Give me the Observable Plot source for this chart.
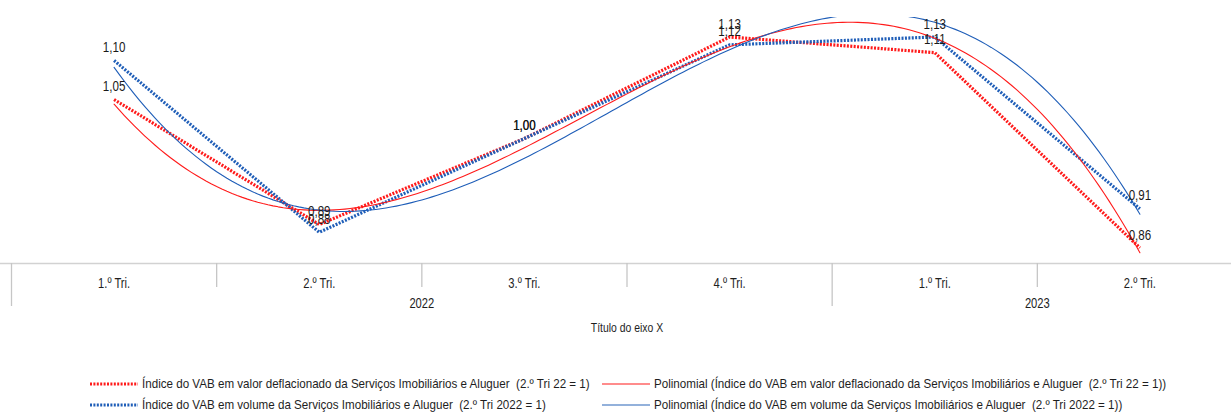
<!DOCTYPE html>
<html>
<head>
<meta charset="utf-8">
<script src="https://cdn.jsdelivr.net/npm/d3@7"></script>
<script src="https://cdn.jsdelivr.net/npm/@observablehq/plot@0.6"></script>
<style>
  body { margin: 0; background: #fff; font-family: "Liberation Sans", Arial, sans-serif; }
  #wrap { position: relative; width: 1231px; height: 416px; overflow: hidden; background: #fff; }
  #chart svg { display: block; }
  .item { position: absolute; display: flex; align-items: center; font-size: 13px; color: #1e1e1e; white-space: pre; line-height: 15px; }
  .item svg { display: block; margin-right: 4px; flex: none; }
  .item span { display: inline-block; transform: scaleX(0.893); transform-origin: 0 50%; }
</style>
</head>
<body>
<div id="wrap">
  <div id="chart"></div>
  <div id="legend"></div>
</div>
<script>
// Quarter labels (inner axis level) and year groups (outer axis level)
const quarters = ["1.º Tri.", "2.º Tri.", "3.º Tri.", "4.º Tri.", "1.º Tri.", "2.º Tri."];
const years = ["2022", "2023"];
const yearCenters = [1.5, 4.5];       // middle of each year's quarters
const yearBoundaries = [-0.5, 3.5, 5.5];
const quarterBoundaries = [0.5, 1.5, 2.5, 4.5];
const axisTitle = "Título do eixo X";

// Index series
const valorDeflacionado = [1.05, 0.89, 1.00, 1.13, 1.11, 0.86];
const volume = [1.10, 0.88, 1.00, 1.12, 1.13, 0.91];

const seriesNames = [
  "Índice do VAB em valor deflacionado da Serviços Imobiliários e Aluguer  (2.º Tri 22 = 1)",
  "Índice do VAB em volume da Serviços Imobiliários e Aluguer  (2.º Tri 2022 = 1)"
];
const trendNames = [
  "Polinomial (Índice do VAB em valor deflacionado da Serviços Imobiliários e Aluguer  (2.º Tri 22 = 1))",
  "Polinomial (Índice do VAB em volume da Serviços Imobiliários e Aluguer  (2.º Tri 2022 = 1))"
];

const RED = "#ff1a1a";
const BLUE = "#1f5eb8";
const DOTS = "2,1.4";
const NARROW = 0.8;   // horizontal squeeze applied to chart text for a narrow face

// Least-squares polynomial (order 3) trend, as in a spreadsheet trendline
function polyFit(ys, order) {
  const n = order + 1;
  const A = Array.from({length: n}, () => new Array(n + 1).fill(0));
  ys.forEach((y, x) => {
    for (let r = 0; r < n; r++) {
      for (let c = 0; c < n; c++) A[r][c] += Math.pow(x, r + c);
      A[r][n] += y * Math.pow(x, r);
    }
  });
  for (let i = 0; i < n; i++) {
    let p = i;
    for (let k = i + 1; k < n; k++) if (Math.abs(A[k][i]) > Math.abs(A[p][i])) p = k;
    [A[i], A[p]] = [A[p], A[i]];
    for (let k = i + 1; k < n; k++) {
      const f = A[k][i] / A[i][i];
      for (let c = i; c <= n; c++) A[k][c] -= f * A[i][c];
    }
  }
  const coef = new Array(n).fill(0);
  for (let i = n - 1; i >= 0; i--) {
    let s = A[i][n];
    for (let c = i + 1; c < n; c++) s -= A[i][c] * coef[c];
    coef[i] = s / A[i][i];
  }
  return x => coef.reduce((acc, a, k) => acc + a * Math.pow(x, k), 0);
}

function trendPoints(ys) {
  const f = polyFit(ys, 3);
  const last = ys.length - 1;
  return d3.range(0, last + 1e-9, last / 200).map(x => ({x, y: f(x)}));
}

const idx = d3.range(quarters.length);
const fmt = v => v.toFixed(2).replace(".", ",");

const chart = Plot.plot({
  width: 1231,
  height: 345,
  marginLeft: 0,
  marginRight: 0,
  marginTop: 17,
  marginBottom: 82,
  x: {domain: [-0.5, 5.5], range: [11, 1242], label: null},
  y: {domain: [0.84, 1.155], axis: null, label: null},
  style: {fontFamily: "'Liberation Sans', Arial, sans-serif", fontSize: "14px", color: "#1e1e1e", background: "#fff"},
  marks: [
    // category axis: baseline, separators and two label levels
    Plot.ruleY([0.84], {stroke: "#d2d2d2", strokeWidth: 1.5}),
    Plot.axisX({ticks: quarterBoundaries, tickSize: 24, tickFormat: () => "", label: null, stroke: "#c6c6c6", strokeWidth: 1.3}),
    Plot.axisX({ticks: yearBoundaries, tickSize: 43, tickFormat: () => "", label: null, stroke: "#c6c6c6", strokeWidth: 1.3}),
    Plot.axisX({ticks: idx, tickSize: 0, tickPadding: 15, tickFormat: i => quarters[i], label: null, fontSize: 14}),
    Plot.axisX({ticks: yearCenters, tickSize: 0, tickPadding: 35, tickFormat: (d, i) => years[i], label: null, fontSize: 14}),
    Plot.text([axisTitle], {x: () => 2.5, frameAnchor: "bottom", dy: 68, fontSize: 13, fill: "#1e1e1e"}),

    // dotted index lines
    Plot.line(idx, {x: i => i, y: i => valorDeflacionado[i], stroke: RED, strokeWidth: 3.2, strokeDasharray: DOTS, strokeLinecap: "butt"}),
    Plot.line(idx, {x: i => i, y: i => volume[i], stroke: BLUE, strokeWidth: 3.2, strokeDasharray: DOTS, strokeLinecap: "butt"}),

    // polynomial trendlines
    Plot.line(trendPoints(valorDeflacionado), {x: "x", y: "y", stroke: RED, strokeWidth: 1.1, clip: true}),
    Plot.line(trendPoints(volume), {x: "x", y: "y", stroke: BLUE, strokeWidth: 1.1, clip: true}),

    // value labels
    Plot.text(idx, {x: i => i, y: i => valorDeflacionado[i], text: i => fmt(valorDeflacionado[i]), dy: -13, fontSize: 14.5, fill: "#1a1a1a"}),
    Plot.text(idx, {x: i => i, y: i => volume[i], text: i => fmt(volume[i]), dy: -13, fontSize: 14.5, fill: "#1a1a1a"})
  ]
});
document.getElementById("chart").appendChild(chart);

// squeeze every chart text horizontally, keeping its anchor
chart.querySelectorAll("text").forEach(t => {
  const len = t.getComputedTextLength();
  if (len > 0) {
    t.setAttribute("textLength", (len * NARROW).toFixed(2));
    t.setAttribute("lengthAdjust", "spacingAndGlyphs");
  }
});

// Legend below the chart
const legend = document.getElementById("legend");
const items = [
  {name: seriesNames[0], color: RED, dash: DOTS, width: 3.2, left: 90, top: 376},
  {name: trendNames[0], color: RED, dash: null, width: 1.2, left: 602, top: 376},
  {name: seriesNames[1], color: BLUE, dash: DOTS, width: 3.2, left: 90, top: 397},
  {name: trendNames[1], color: "#6f97cf", dash: null, width: 1.6, left: 602, top: 397}
];
for (const it of items) {
  const div = document.createElement("div");
  div.className = "item";
  div.style.left = it.left + "px";
  div.style.top = it.top + "px";
  const sw = d3.create("svg").attr("width", 48).attr("height", 8);
  sw.append("line").attr("x1", 0).attr("x2", 48).attr("y1", 4).attr("y2", 4)
    .attr("stroke", it.color).attr("stroke-width", it.width)
    .attr("stroke-dasharray", it.dash);
  div.appendChild(sw.node());
  const span = document.createElement("span");
  span.textContent = it.name;
  div.appendChild(span);
  legend.appendChild(div);
}
</script>
</body>
</html>
